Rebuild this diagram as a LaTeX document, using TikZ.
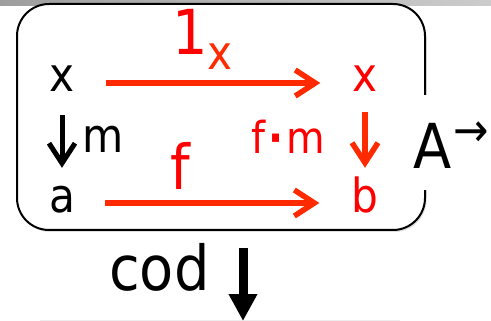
\documentclass[tikz,border=0pt]{standalone}
\usepackage{fontspec}
\setmainfont{DejaVu Sans Condensed}
\usetikzlibrary{positioning,arrows.meta,shadows}
\definecolor{catred}{RGB}{255,0,0}
\definecolor{mapred}{RGB}{255,42,0}
\newcommand\szL{\fontsize{62}{64}\selectfont}
\newcommand\szM{\fontsize{47}{50}\selectfont}
\newcommand\szS{\fontsize{44}{46}\selectfont}

\begin{document}
\begin{tikzpicture}[x=1pt, y=-1pt, every node/.style={inner sep=0pt}]
\tikzstyle{obj}=[font=\szM, text height=18pt, text depth=0pt, anchor=base]
\tikzstyle{redmap}=[draw=mapred, line width=5.5pt, -{Straight Barb[length=20pt,width=26pt]}]
\tikzstyle{blackmap}=[draw=black, line width=5pt, -{Straight Barb[length=20pt,width=26pt]}]
\tikzstyle{codmap}=[draw=black, line width=9pt, -{Triangle[length=27pt,width=27pt]}]
\useasboundingbox (0,0) rectangle (491,321);
\shade[left color=black!38, right color=black!20] (0,0) rectangle (491,6);
\draw[black!7, line width=1pt] (40,320) -- (400,320);
% the arrow category
\node[draw, fill=white, line width=2pt, rounded corners=32pt, minimum width=408pt, minimum height=226pt,
  drop shadow={shadow xshift=1.5pt, shadow yshift=-2pt, opacity=.25}] (frame) at (221,117) {};
\node[font=\szL, fill=white, text height=73pt, text depth=22pt, anchor=base west] (catlbl) at (413,168) {A\hspace{2pt}\raisebox{21pt}{\szM →}};
% objects
\node[obj] (srcx) at (62,92) {x};
\node[obj, text=catred] (tgtx) at (365,92) {x};
\node[obj] (srca) at (62,212) {a};
\node[obj, text=catred] (tgtb) at (365,212) {b};
% maps
\draw[redmap, shorten <=31pt, shorten >=32pt] (srcx) -- node[pos=0.46, above=11pt, text=catred] {{\szL 1}\raisebox{-15pt}{\szM\color{mapred}x}} (tgtx);
\draw[redmap, shorten <=30pt, shorten >=32pt] (srca) -- node[pos=0.38, above=11pt, font=\szL, text=catred] {f} (tgtb);
\draw[blackmap, shorten <=23pt, shorten >=26pt] (srcx) -- node[pos=0.46, right=18pt, font=\szM] {m} (srca);
\draw[redmap, shorten <=20pt, shorten >=26pt] (tgtx) -- node[pos=0.44, left=37pt, font=\szS, text=catred] {f\hspace{3pt}{\bfseries·}\hspace{3pt}m} (tgtb);
% codomain functor
\coordinate (codend) at (243,321);
\draw[codmap, shorten <=17pt] (frame.south -| codend) -- node[pos=0.4, left=29pt, font=\szL] {cod} (codend);
\end{tikzpicture}
\end{document}
